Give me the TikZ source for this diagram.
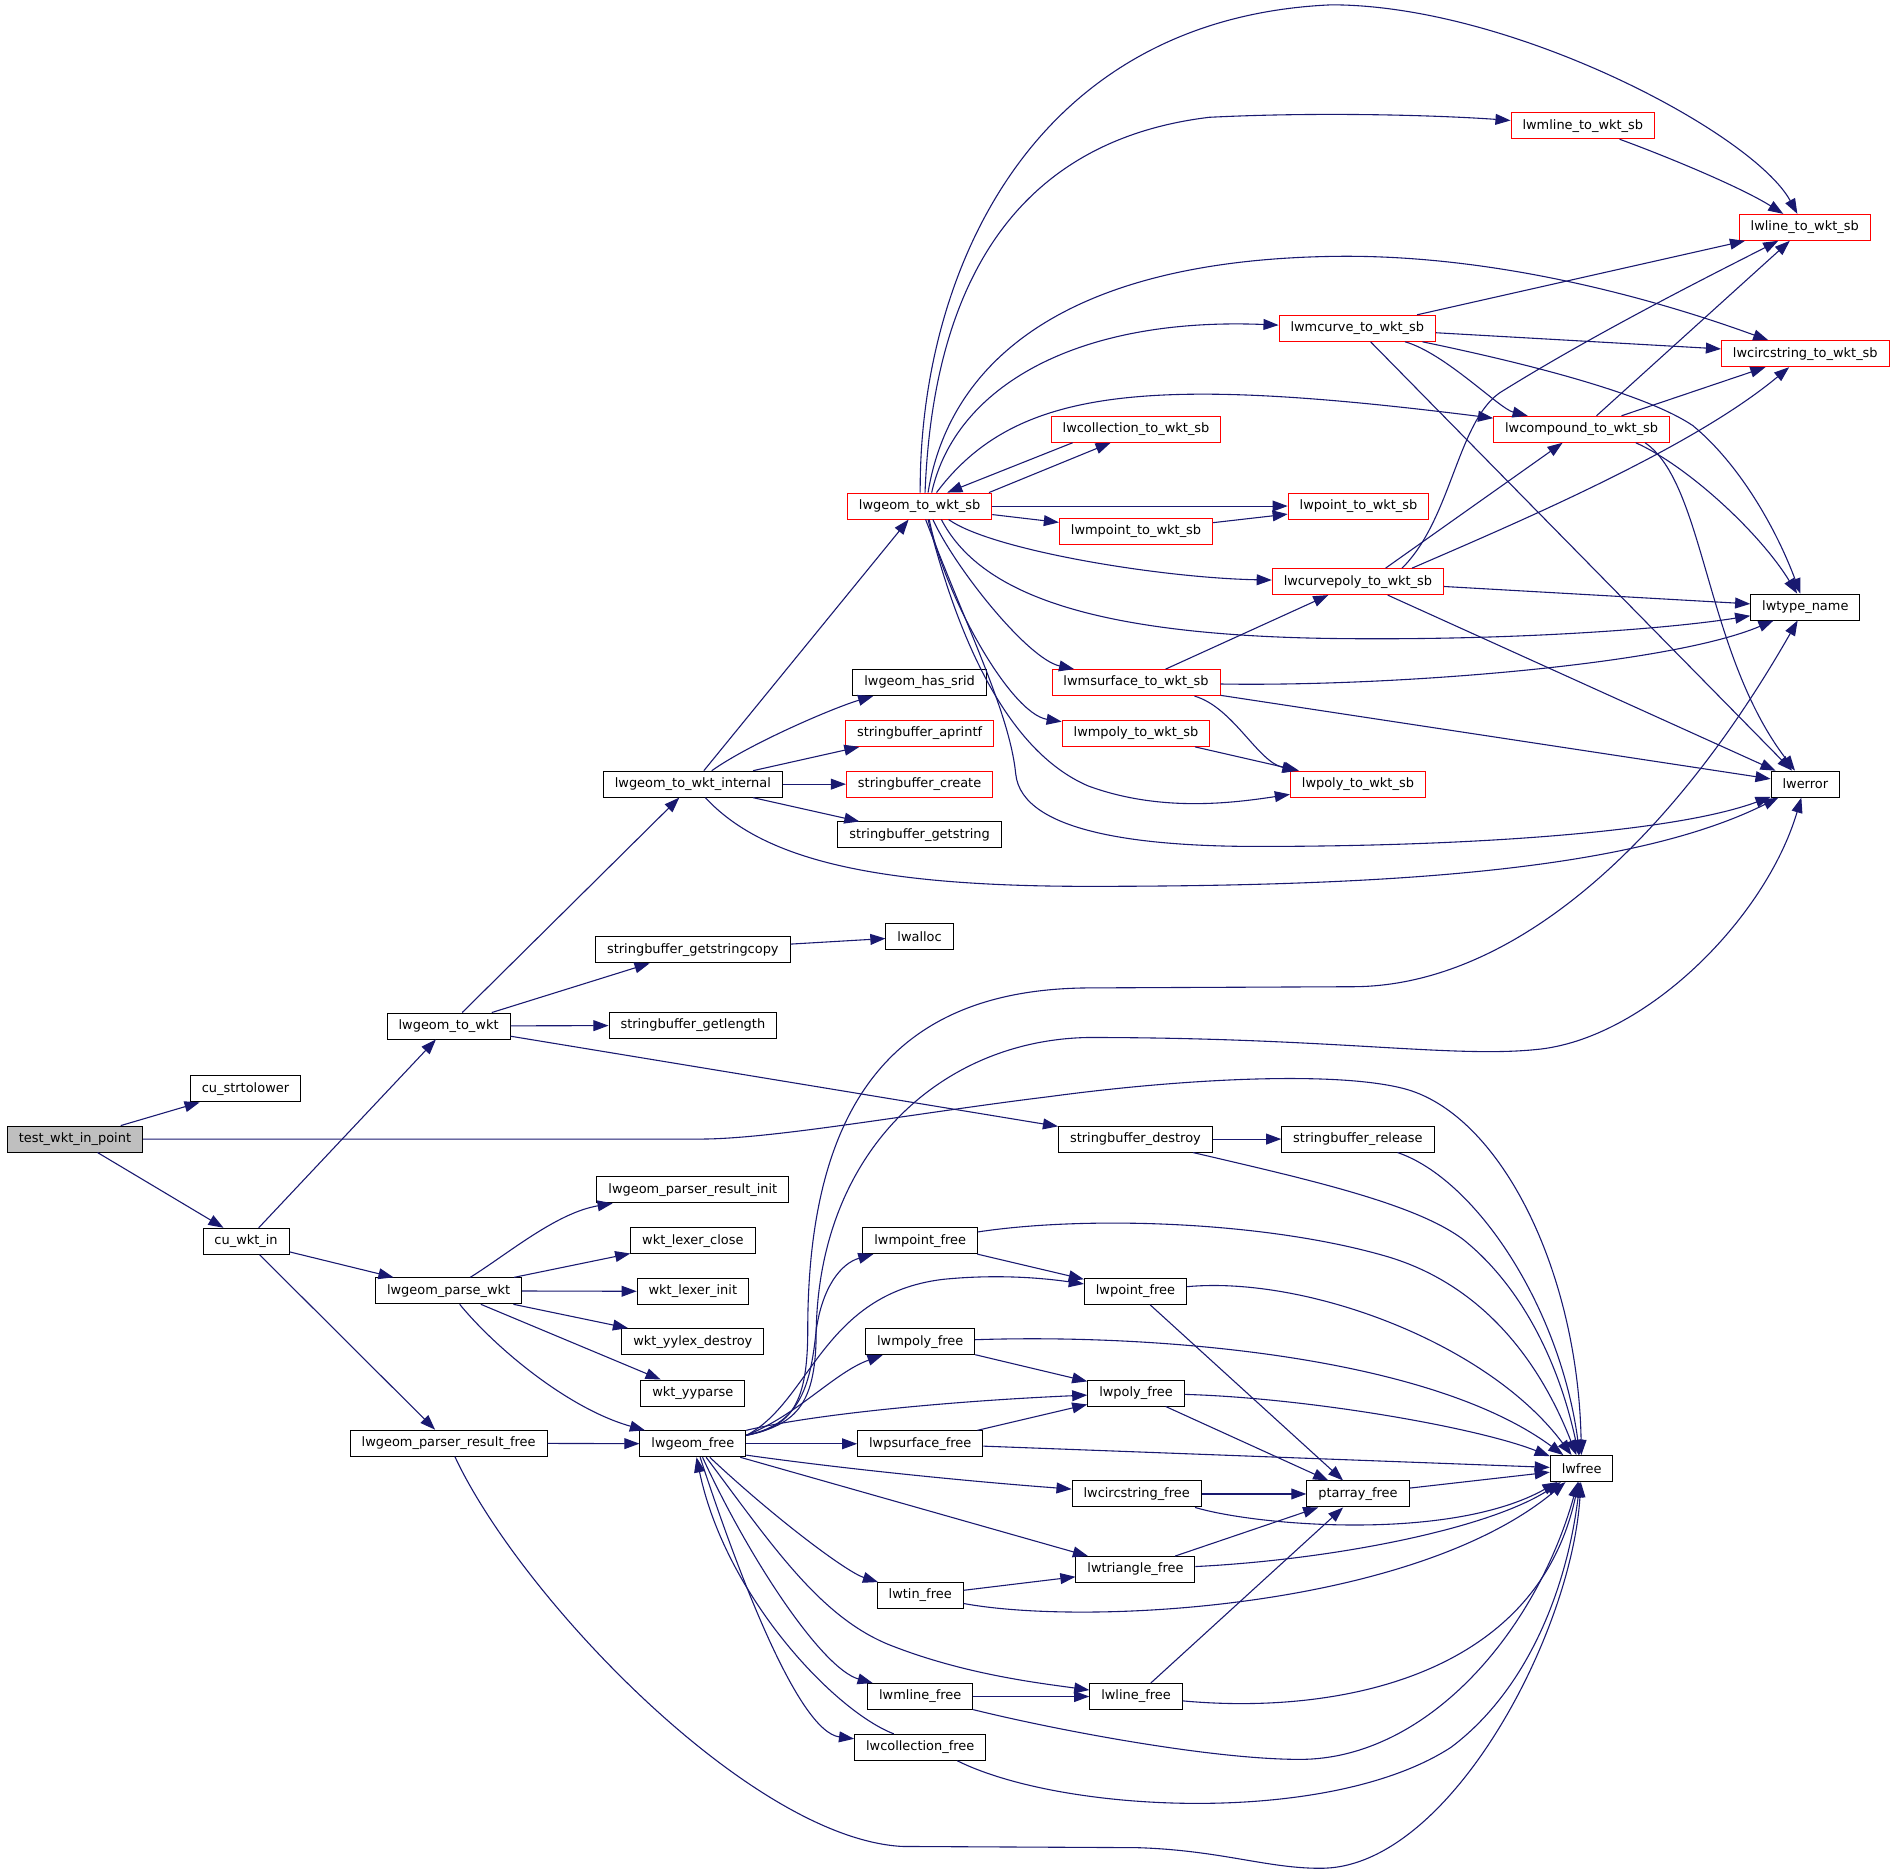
\documentclass[tikz,border=0pt]{standalone}
\usepackage{fontspec}
\setmainfont{DejaVu Sans}
\usetikzlibrary{arrows.meta}
\definecolor{edgeblue}{HTML}{191970}
\definecolor{rootgray}{HTML}{BFBFBF}
\begin{document}
\begin{tikzpicture}[x=1pt,y=-1pt,
  box/.style={draw=black, line width=0.8pt, fill=white, inner xsep=9.5pt, inner ysep=0pt, minimum height=21.5pt, font=\fontsize{10.7}{13}\selectfont},
  redbox/.style={box, draw=red},
  rootbox/.style={box, fill=rootgray},
  edge/.style={draw=edgeblue, line width=0.9pt, -{Triangle[length=12.5pt,width=9pt]}}]
\fill[white] (0,0) rectangle (1568,1548);
\useasboundingbox (0,0) rectangle (1568,1548);
% nodes
\node[rootbox] (T) at (62,942) {test\_wkt\_in\_point};
\node[box] (cus) at (203,900.5) {cu\_strtolower};
\node[box] (cwi) at (203.5,1026.5) {cu\_wkt\_in};
\node[box] (w2w) at (371,848.5) {lwgeom\_to\_wkt};
\node[box] (pw) at (371,1067.5) {lwgeom\_parse\_wkt};
\node[box] (prf) at (371,1193.5) {lwgeom\_parser\_result\_free};
\node[box] (I) at (573,648.5) {lwgeom\_to\_wkt\_internal};
\node[box] (sbgc) at (573,785.5) {stringbuffer\_getstringcopy};
\node[box] (sbgl) at (573,848) {stringbuffer\_getlength};
\node[box] (pri) at (573,984) {lwgeom\_parser\_result\_init};
\node[box] (wlc) at (573,1026) {wkt\_lexer\_close};
\node[box] (wli) at (573,1068) {wkt\_lexer\_init};
\node[box] (wyd) at (573,1109.5) {wkt\_yylex\_destroy};
\node[box] (wyp) at (573,1152) {wkt\_yyparse};
\node[box] (F) at (573,1194) {lwgeom\_free};
\node[redbox] (S) at (760.5,418.5) {lwgeom\_to\_wkt\_sb};
\node[box] (srid) at (760.5,564.5) {lwgeom\_has\_srid};
\node[redbox] (sbap) at (760.5,606.5) {stringbuffer\_aprintf};
\node[redbox] (sbcr) at (760.5,648.5) {stringbuffer\_create};
\node[box] (sbgs) at (760.5,690.5) {stringbuffer\_getstring};
\node[box] (lwalloc) at (760.5,774.5) {lwalloc};
\node[box] (mptf) at (761,1026) {lwmpoint\_free};
\node[box] (mpyf) at (761,1109.5) {lwmpoly\_free};
\node[box] (psf) at (761,1194) {lwpsurface\_free};
\node[box] (tinf) at (761,1319.5) {lwtin\_free};
\node[box] (mlf) at (761,1403) {lwmline\_free};
\node[box] (colf) at (761,1445) {lwcollection\_free};
\node[redbox] (colsb) at (939.5,355) {lwcollection\_to\_wkt\_sb};
\node[redbox] (mptsb) at (939.5,439.5) {lwmpoint\_to\_wkt\_sb};
\node[redbox] (mssb) at (939.5,564.5) {lwmsurface\_to\_wkt\_sb};
\node[redbox] (mpysb) at (939.5,606.5) {lwmpoly\_to\_wkt\_sb};
\node[box] (sbd) at (939,942) {stringbuffer\_destroy};
\node[box] (ptf) at (939,1068) {lwpoint\_free};
\node[box] (pyf) at (939.5,1152) {lwpoly\_free};
\node[box] (csf) at (940,1235.5) {lwcircstring\_free};
\node[box] (trf) at (939,1298) {lwtriangle\_free};
\node[box] (lnf) at (939.5,1403) {lwline\_free};
\node[redbox] (mcsb) at (1122.5,271.5) {lwmcurve\_to\_wkt\_sb};
\node[redbox] (ptsb) at (1123.5,418.5) {lwpoint\_to\_wkt\_sb};
\node[redbox] (cpsb) at (1123,481) {lwcurvepoly\_to\_wkt\_sb};
\node[redbox] (pysb) at (1123,648.5) {lwpoly\_to\_wkt\_sb};
\node[box] (sbr) at (1123,942) {stringbuffer\_release};
\node[box] (ptaf) at (1123,1235.5) {ptarray\_free};
\node[redbox] (mlsb) at (1309,104) {lwmline\_to\_wkt\_sb};
\node[redbox] (cmsb) at (1308,355) {lwcompound\_to\_wkt\_sb};
\node[box] (lwfree) at (1308,1214.5) {lwfree};
\node[redbox] (lnsb) at (1492.5,188) {lwline\_to\_wkt\_sb};
\node[redbox] (ccsb) at (1493,292.5) {lwcircstring\_to\_wkt\_sb};
\node[box] (tname) at (1493,502) {lwtype\_name};
\node[box] (lwerror) at (1493,648.5) {lwerror};
% edges: root
\draw[edge] (T) -- (cus);
\draw[edge] (T) -- (cwi);
\draw[edge] (T.east) -- (579,942) .. controls (640,942) and (760,920) .. (867,907) .. controls (970,893) and (1100,885) .. (1160,900) .. controls (1240,920) and (1305,1050) .. (lwfree);
% cu_wkt_in
\draw[edge] (cwi) -- (w2w);
\draw[edge] (cwi) -- (pw);
\draw[edge] (cwi) -- (prf);
% lwgeom_to_wkt
\draw[edge] (w2w) -- (I);
\draw[edge] (w2w) -- (sbgc);
\draw[edge] (w2w) -- (sbgl);
\draw[edge] (w2w) -- (sbd);
% lwgeom_parse_wkt
\draw[edge] (pw) .. controls (420,1037) and (460,1003) .. (pri);
\draw[edge] (pw) -- (wlc);
\draw[edge] (pw) -- (wli);
\draw[edge] (pw) -- (wyd);
\draw[edge] (pw) -- (wyp);
\draw[edge] (pw) .. controls (410,1115) and (470,1165) .. (F);
% parser_result_free
\draw[edge] (prf) -- (F);
\draw[edge] (prf) .. controls (430,1320) and (620,1520) .. (746,1527) -- (940,1528) .. controls (1010,1530) and (1050,1546) .. (1095,1545) .. controls (1200,1542) and (1300,1350) .. (lwfree);
% to_wkt_internal
\draw[edge] (I) -- (S);
\draw[edge] (I) .. controls (620,615) and (690,585) .. (srid);
\draw[edge] (I) -- (sbap);
\draw[edge] (I) -- (sbcr);
\draw[edge] (I) -- (sbgs);
\draw[edge] (I) .. controls (630,710) and (720,733) .. (900,733) .. controls (1150,733) and (1350,720) .. (lwerror);
% stringbuffer
\draw[edge] (sbgc) -- (lwalloc);
\draw[edge] (sbd) -- (sbr);
\draw[edge] (sbd) .. controls (1080,975) and (1170,995) .. (1210,1025) .. controls (1260,1065) and (1290,1130) .. (lwfree);
\draw[edge] (sbr) .. controls (1220,975) and (1290,1080) .. (lwfree);
% lwgeom_to_wkt_sb
\draw[edge] ([xshift=0.5pt]S.north) .. controls (760,230) and (850,15) .. (1101,4) .. controls (1250,4) and (1450,110) .. (lnsb);
\draw[edge] ([xshift=4.5pt]S.north) .. controls (770,280) and (810,120) .. (1000,97) .. controls (1100,92) and (1200,96) .. (mlsb);
\draw[edge] ([xshift=7pt]S.north) .. controls (785,300) and (880,215) .. (1104,212) .. controls (1250,210) and (1390,255) .. (ccsb);
\draw[edge] ([xshift=10pt]S.north) .. controls (790,320) and (890,262) .. (mcsb);
\draw[edge] ([xshift=14pt]S.north) .. controls (840,320) and (950,310) .. (cmsb);
\draw[edge] (S.11) -- (colsb.208);
\draw[edge] (colsb.192) -- (S.26);
\draw[edge] (S) -- (ptsb);
\draw[edge] (S) -- (mptsb);
\draw[edge] ([xshift=24pt]S.south) .. controls (820,455) and (960,478) .. (cpsb);
\draw[edge] ([xshift=18pt]S.south) .. controls (810,490) and (900,525) .. (1100,528) .. controls (1250,530) and (1380,520) .. (tname);
\draw[edge] ([xshift=11pt]S.south) .. controls (790,470) and (850,545) .. (mssb);
\draw[edge] ([xshift=8pt]S.south) .. controls (780,490) and (835,590) .. (mpysb);
\draw[edge] ([xshift=7pt]S.south) .. controls (790,520) and (830,620) .. (900,650) .. controls (960,672) and (1020,664) .. (pysb);
\draw[edge] ([xshift=5pt]S.south) .. controls (800,520) and (835,590) .. (840,640) .. controls (845,690) and (950,700) .. (1040,700) .. controls (1200,700) and (1380,690) .. (lwerror);
% sub wkt_sb
\draw[edge] (mlsb) .. controls (1380,130) and (1440,155) .. (lnsb);
\draw[edge] (mcsb) -- (lnsb);
\draw[edge] (mcsb) -- (ccsb);
\draw[edge] (mcsb) .. controls (1195,292) and (1240,338) .. (cmsb);
\draw[edge] (mcsb) .. controls (1260,300) and (1360,325) .. (1400,352) .. controls (1440,385) and (1470,440) .. (tname);
\draw[edge] (mcsb) -- (lwerror);
\draw[edge] (cmsb) -- (lnsb);
\draw[edge] (cmsb) -- (ccsb);
\draw[edge] (cmsb.-14) .. controls (1395,385) and (1455,440) .. (tname);
\draw[edge] (cmsb.-12) .. controls (1410,400) and (1410,540) .. (lwerror);
\draw[edge] (cpsb.17) .. controls (1200,430) and (1205,350) .. (1240,325) .. controls (1320,275) and (1420,225) .. (lnsb);
\draw[edge] (cpsb.14) .. controls (1260,430) and (1400,370) .. (ccsb);
\draw[edge] (cpsb.26) -- (cmsb);
\draw[edge] (cpsb) -- (tname);
\draw[edge] (cpsb) -- (lwerror);
\draw[edge] (mssb) -- (cpsb);
\draw[edge] (mssb) .. controls (1150,568) and (1380,550) .. (tname);
\draw[edge] (mssb.-13) .. controls (1020,585) and (1040,630) .. (pysb);
\draw[edge] (mssb) -- (lwerror);
\draw[edge] (mpysb) -- (pysb);
\draw[edge] (mptsb) -- (ptsb);
% lwgeom_free
\draw[edge] (F.9) .. controls (655,1180) and (668,1160) .. (668,1100) .. controls (668,900) and (750,818) .. (900,817) -- (1120,816) .. controls (1250,815) and (1380,700) .. (tname);
\draw[edge] (F.9) .. controls (660,1178) and (675,1160) .. (675,1100) .. controls (678,950) and (780,860) .. (900,858) .. controls (1100,858) and (1200,875) .. (1270,868) .. controls (1360,860) and (1460,760) .. (lwerror);
\draw[edge] (F.9) .. controls (660,1178) and (670,1150) .. (675,1100) .. controls (680,1065) and (695,1045) .. (mptf);
\draw[edge] (F.9) .. controls (670,1160) and (680,1070) .. (780,1058) .. controls (830,1053) and (870,1058) .. (ptf);
\draw[edge] (F.9) .. controls (660,1170) and (690,1135) .. (mpyf);
\draw[edge] (F.north east) .. controls (680,1168) and (800,1158) .. (pyf);
\draw[edge] (F) -- (psf);
\draw[edge] (F.-12) .. controls (700,1215) and (800,1225) .. (csf);
\draw[edge] (F) -- (trf);
\draw[edge] ([xshift=14pt]F.south) .. controls (640,1255) and (700,1300) .. (tinf);
\draw[edge] ([xshift=11pt]F.south) .. controls (640,1280) and (680,1340) .. (740,1362) .. controls (800,1385) and (860,1392) .. (lnf);
\draw[edge] ([xshift=8pt]F.south) .. controls (620,1290) and (680,1380) .. (mlf);
\draw[edge] ([xshift=6pt]F.south) .. controls (610,1300) and (660,1432) .. (colf);
\draw[edge] (colf.153) .. controls (690,1415) and (600,1320) .. ([xshift=3pt]F.south);
% free functions
\draw[edge] (mptf) -- (ptf);
\draw[edge] (mptf) .. controls (900,1005) and (1050,1010) .. (1150,1040) .. controls (1230,1065) and (1275,1130) .. (lwfree);
\draw[edge] (ptf) -- (ptaf);
\draw[edge] (ptf) .. controls (1080,1055) and (1230,1110) .. (lwfree);
\draw[edge] (mpyf) -- (pyf);
\draw[edge] (mpyf) .. controls (950,1103) and (1180,1120) .. (lwfree);
\draw[edge] (pyf) -- (ptaf);
\draw[edge] (pyf) .. controls (1080,1156) and (1220,1180) .. (lwfree);
\draw[edge] (psf) -- (pyf);
\draw[edge] (psf) -- (lwfree);
\draw[edge] (csf) -- (ptaf);
\draw[edge] (csf.-13) .. controls (1040,1262) and (1200,1275) .. (lwfree);
\draw[edge] (ptaf) -- (lwfree);
\draw[edge] (trf) -- (ptaf);
\draw[edge] (trf) .. controls (1100,1290) and (1230,1265) .. (lwfree);
\draw[edge] (tinf) -- (trf);
\draw[edge] (tinf) .. controls (900,1345) and (1170,1330) .. (lwfree);
\draw[edge] (mlf) -- (lnf);
\draw[edge] (mlf) .. controls (870,1430) and (1000,1455) .. (1075,1455) .. controls (1180,1455) and (1270,1350) .. (lwfree);
\draw[edge] (lnf) -- (ptaf);
\draw[edge] (lnf) .. controls (1100,1418) and (1270,1390) .. (lwfree);
\draw[edge] (colf.-20) .. controls (880,1500) and (1100,1510) .. (1200,1445) .. controls (1260,1400) and (1295,1320) .. (lwfree);
\end{tikzpicture}
\end{document}
